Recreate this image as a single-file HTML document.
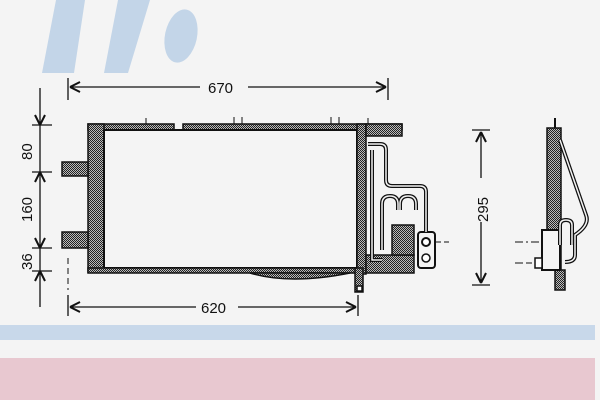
<!DOCTYPE html>
<html><head><style>
html,body{margin:0;padding:0;background:#f4f4f4;}
svg{display:block;}
text{font-family:"Liberation Sans",sans-serif;font-size:15px;fill:#111;}
</style></head><body>
<svg width="600" height="400" viewBox="0 0 600 400" xmlns="http://www.w3.org/2000/svg">
<defs>
<pattern id="dot" width="2" height="2" patternUnits="userSpaceOnUse">
<rect width="2" height="2" fill="#bbb"/><rect width="1" height="1" fill="#222"/><rect x="1" y="1" width="1" height="1" fill="#222"/>
</pattern>
</defs>
<rect width="600" height="400" fill="#f4f4f4"/>
<!-- logo -->
<polygon points="56,0 85,0 74,73 42,73" fill="#c3d5e8"/>
<polygon points="118,0 150,0 128,73 104,73" fill="#c3d5e8"/>
<ellipse cx="181" cy="36" rx="16" ry="27" transform="rotate(12 181 36)" fill="#c3d5e8"/>
<!-- bands -->
<rect x="0" y="325" width="595" height="15" fill="#c8d8ea"/>
<rect x="0" y="358" width="595" height="42" fill="#e8c8d0"/>

<g stroke="#111" fill="none" stroke-width="1.3">
<line x1="68" y1="78" x2="68" y2="100"/><line x1="388" y1="78" x2="388" y2="100"/>
<line x1="70" y1="87" x2="200" y2="87"/><line x1="248" y1="87" x2="386" y2="87"/>
<path d="M70,87 l10,-5 M70,87 l10,5 M386,87 l-10,-5 M386,87 l-10,5" stroke-width="2"/>
<line x1="68" y1="295" x2="68" y2="316"/><line x1="358" y1="295" x2="358" y2="316"/>
<line x1="70" y1="307" x2="196" y2="307"/><line x1="238" y1="307" x2="356" y2="307"/>
<path d="M70,307 l10,-5 M70,307 l10,5 M356,307 l-10,-5 M356,307 l-10,5" stroke-width="2"/>
<line x1="40" y1="88" x2="40" y2="307"/>
<line x1="32" y1="125" x2="52" y2="125"/><line x1="32" y1="172" x2="52" y2="172"/>
<line x1="32" y1="248" x2="52" y2="248"/><line x1="32" y1="271" x2="52" y2="271"/>
<path d="M40,125 l-5,-10 M40,125 l5,-10 M40,172 l-5,10 M40,172 l5,10 M40,248 l-5,-10 M40,248 l5,-10 M40,271 l-5,10 M40,271 l5,10" stroke-width="2"/>
<line x1="472" y1="130" x2="490" y2="130"/><line x1="472" y1="285" x2="490" y2="285"/>
<line x1="481" y1="132" x2="481" y2="178"/><line x1="481" y1="222" x2="481" y2="283"/>
<path d="M481,132 l-5,10 M481,132 l5,10 M481,283 l-5,-10 M481,283 l5,-10" stroke-width="2"/>
</g>
<text x="208" y="93">670</text>
<text x="201" y="313">620</text>
<text transform="translate(32,160) rotate(-90)">80</text>
<text transform="translate(32,222) rotate(-90)">160</text>
<text transform="translate(32,270) rotate(-90)">36</text>
<text transform="translate(488,222) rotate(-90)">295</text>

<g stroke="#111" stroke-width="1.5">
<rect x="88" y="124" width="86" height="6" fill="url(#dot)"/>
<rect x="183" y="124" width="219" height="6" fill="url(#dot)"/>
<rect x="88" y="124" width="16" height="148" fill="url(#dot)"/>
<rect x="104" y="130" width="253" height="138" fill="#f4f4f4" stroke-width="2"/>
<rect x="88" y="268" width="269" height="5" fill="url(#dot)"/>
<rect x="357" y="124" width="9" height="150" fill="url(#dot)"/>
<rect x="355" y="268" width="8" height="24" fill="url(#dot)"/>
<rect x="357" y="286" width="5" height="5" fill="#fff"/>
<path d="M250,273 Q290,285 350,273 Z" fill="url(#dot)"/>
<rect x="62" y="162" width="26" height="14" fill="url(#dot)"/>
<rect x="62" y="232" width="26" height="16" fill="url(#dot)"/>
<rect x="366" y="124" width="36" height="12" fill="url(#dot)"/>
<rect x="366" y="255" width="48" height="18" fill="url(#dot)"/>
<rect x="392" y="225" width="22" height="30" fill="url(#dot)"/>
<rect x="418" y="232" width="17" height="36" rx="3" fill="#f4f4f4" stroke-width="2"/>
<circle cx="426" cy="242" r="4" fill="#fff" stroke-width="2"/>
<circle cx="426" cy="258" r="4" fill="#fff"/>
</g>
<g stroke="#111" fill="none" stroke-width="4">
<path d="M368,144 H380 Q386,144 386,150 V180 Q386,186 392,186 H420 Q426,186 426,192 V232"/>
<path d="M372,150 V260 H382"/>
<path d="M382,250 V204 Q382,196 390,196 Q398,196 398,204 V210"/>
<path d="M400,210 V204 Q400,196 408,196 Q416,196 416,204 V210"/>
</g>
<g stroke="#f4f4f4" fill="none" stroke-width="1.5">
<path d="M368,144 H380 Q386,144 386,150 V180 Q386,186 392,186 H420 Q426,186 426,192 V232"/>
<path d="M372,150 V260 H382"/>
<path d="M382,250 V204 Q382,196 390,196 Q398,196 398,204 V210"/>
<path d="M400,210 V204 Q400,196 408,196 Q416,196 416,204 V210"/>
</g>
<g stroke="#111" stroke-width="1">
<line x1="146" y1="118" x2="146" y2="124"/><line x1="234" y1="117" x2="234" y2="124"/><line x1="242" y1="117" x2="242" y2="124"/>
<line x1="331" y1="117" x2="331" y2="124"/><line x1="339" y1="117" x2="339" y2="124"/><line x1="368" y1="118" x2="368" y2="124"/>
<line x1="68" y1="258" x2="68" y2="290" stroke-dasharray="6,4"/>
<line x1="436" y1="242" x2="450" y2="242" stroke-dasharray="5,3"/>
<line x1="515" y1="242" x2="543" y2="242" stroke-dasharray="8,3,2,3"/>
<line x1="515" y1="263" x2="532" y2="263" stroke-dasharray="8,3"/>
</g>
<g stroke="#111" stroke-width="1.5">
<rect x="547" y="128" width="14" height="142" fill="url(#dot)"/>
<rect x="555" y="270" width="10" height="20" fill="url(#dot)"/>
<rect x="542" y="230" width="18" height="40" fill="#f4f4f4" stroke-width="2"/>
<rect x="535" y="258" width="7" height="10" fill="#fff"/>
</g>
<g stroke="#111" fill="none" stroke-width="4">
<path d="M560,140 L586,215 Q590,225 575,235 V255 Q575,262 565,262"/>
<path d="M560,245 V225 Q560,220 566,220 Q572,220 572,225 V245"/>
</g>
<g stroke="#f4f4f4" fill="none" stroke-width="1.5">
<path d="M560,140 L586,215 Q590,225 575,235 V255 Q575,262 565,262"/>
<path d="M560,245 V225 Q560,220 566,220 Q572,220 572,225 V245"/>
</g>
<line x1="555" y1="118" x2="555" y2="128" stroke="#111" stroke-width="2"/>
</svg>
</body></html>
